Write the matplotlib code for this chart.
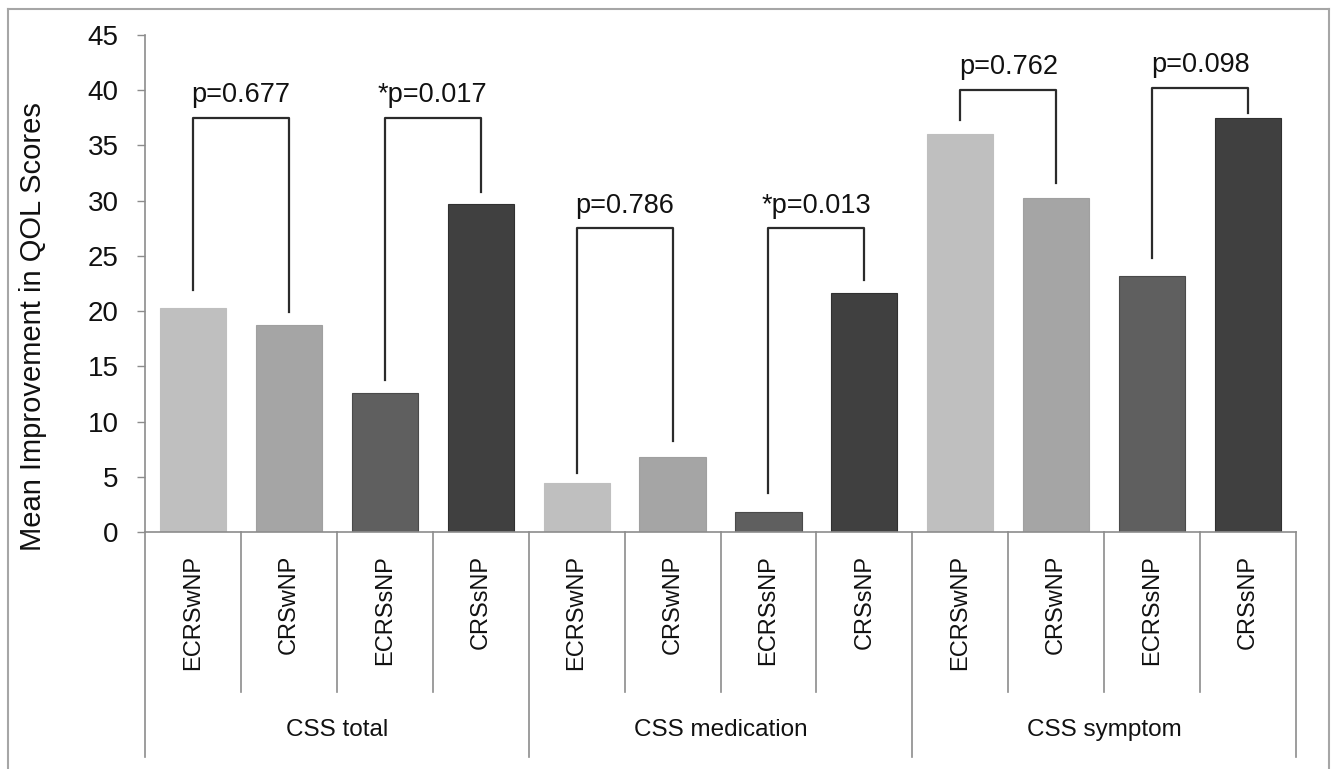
import matplotlib
matplotlib.use("Agg")
import matplotlib.pyplot as plt
from matplotlib.lines import Line2D

plt.rcParams['font.family'] = ['Liberation Sans', 'DejaVu Sans']

# ---- data ----
groups = ["CSS total", "CSS medication", "CSS symptom"]
subgroups = ["ECRSwNP", "CRSwNP", "ECRSsNP", "CRSsNP"]
css_total = [20.3, 18.7, 12.6, 29.7]
css_medication = [4.4, 6.8, 1.8, 21.6]
css_symptom = [36.0, 30.2, 23.2, 37.5]

p_labels = ["p=0.677", "*p=0.017", "p=0.786", "*p=0.013", "p=0.762", "p=0.098"]
# bracket layout: (left bar, right bar, left leg end, top, right leg end)
brackets = [
    (0, 1, 21.9, 37.5, 19.9),
    (2, 3, 13.8, 37.5, 30.8),
    (4, 5, 5.3, 27.5, 8.2),
    (6, 7, 3.5, 27.5, 22.8),
    (8, 9, 37.3, 40.0, 31.6),
    (10, 11, 24.8, 40.2, 37.9),
]

bar_colors = ["#BFBFBF", "#A5A5A5", "#5F5F5F", "#404040"]
edge_colors = ["#BFBFBF", "#A0A0A0", "#4A4A4A", "#303030"]
axis_gray = "#8C8C8C"

values = css_total + css_medication + css_symptom
n = len(values)
xs = list(range(n))

W, H = 1336, 769
fig = plt.figure(figsize=(W / 100, H / 100), dpi=100)
ax = fig.add_axes([145 / W, (H - 532) / H, (1296 - 145) / W, (532 - 35) / H])

for i, v in enumerate(values):
    k = i % 4
    ax.bar(i, v, width=0.69, color=bar_colors[k], edgecolor=edge_colors[k], linewidth=0.8, zorder=2)

ax.set_xlim(-0.5, n - 0.5)
ax.set_ylim(0, 45)
ax.set_yticks(range(0, 46, 5))
ax.tick_params(axis='y', direction='out', length=6, width=1, color=axis_gray,
               labelsize=20, pad=13, labelcolor="#111111")
ax.set_xticks([])
for side in ["top", "right"]:
    ax.spines[side].set_visible(False)
for side in ["left", "bottom"]:
    ax.spines[side].set_color(axis_gray)
    ax.spines[side].set_linewidth(1.2)

# category axis below the bars
tr = ax.get_xaxis_transform()
inner_drop = -0.322
outer_drop = -0.453
for b in range(n + 1):
    x = b - 0.5
    drop = outer_drop if b % 4 == 0 else inner_drop
    ax.plot([x, x], [0, drop], transform=tr, color=axis_gray, lw=1.2, clip_on=False)

for i in xs:
    ax.text(i, -0.046, subgroups[i % 4], transform=tr, rotation=90, ha='center', va='top',
            fontsize=17, color="#111111")
for g, name in enumerate(groups):
    ax.text(g * 4 + 1.5, -0.398, name, transform=tr, ha='center', va='center',
            fontsize=17.5, color="#111111")

# significance brackets
for (a, b, yl, top, yr), lab in zip(brackets, p_labels):
    ax.plot([a, a, b, b], [yl, top, top, yr], color="#2B2B2B", lw=1.6, zorder=3)
    ax.annotate(lab, xy=((a + b) / 2, top), xytext=(0, 7), textcoords='offset points',
                ha='center', va='bottom', fontsize=19.5, color="#111111")

fig.text(33 / W, 1 - 327 / H, "Mean Improvement in QOL Scores", rotation=90,
         ha='center', va='center', fontsize=21, color="#111111")

# outer frame
frame_kw = dict(color="#A6A6A6", lw=1.5, transform=fig.transFigure)
l, r, t = 8 / W, 1329 / W, 1 - 9 / H
fig.add_artist(Line2D([l, l], [0, t], **frame_kw))
fig.add_artist(Line2D([l, r], [t, t], **frame_kw))
fig.add_artist(Line2D([r, r], [t, 0], **frame_kw))

fig.savefig("out.png", dpi=100, facecolor="white")
